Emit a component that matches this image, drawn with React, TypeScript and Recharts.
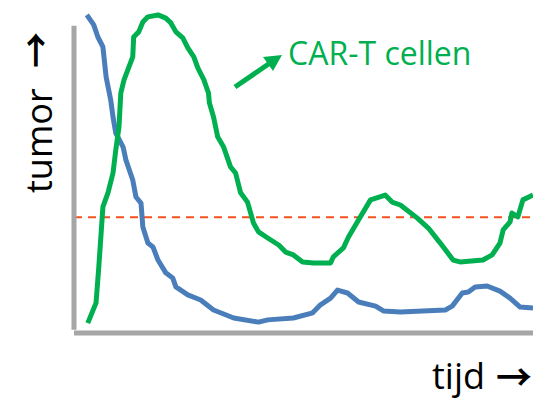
import React from 'react';
import { LineChart, Line, XAxis, YAxis, ReferenceLine } from 'recharts';

// time runs 0..100 along the x axis, level 0..100 up the y axis
const tumorTime = [
  2.8, 4.3, 5.2, 6.3, 7.0, 8.0, 8.5, 9.1, 10.7, 11.3, 12.8, 13.5, 14.6, 15.0, 16.1,
  17.2, 18.3, 20.0, 21.5, 22.2, 24.8, 27.6, 30.4, 34.8, 40.2, 42.2, 47.8, 52.0, 53.7,
  55.9, 57.4, 59.6, 62.0, 65.7, 67.4, 71.1, 80.9, 82.4, 84.6, 85.9, 87.4, 90.0, 92.8,
  95.0, 97.2, 100,
];
const tumorLevel = [
  99.4, 96.3, 92.5, 89.4, 80.0, 72.8, 67.5, 62.5, 58.1, 54.1, 47.8, 42.5, 40.6, 33.1, 28.1,
  26.9, 22.8, 18.8, 17.2, 14.4, 11.9, 10.3, 7.2, 4.7, 3.4, 4.1, 4.7, 6.3, 8.8,
  10.9, 13.4, 12.5, 9.7, 8.4, 6.9, 6.6, 7.2, 8.4, 12.5, 12.8, 14.4, 14.7, 13.1,
  10.9, 8.1, 7.8,
];

const carTTime = [
  3.0, 4.8, 5.4, 6.3, 7.4, 8.5, 9.1, 9.8, 10.2, 10.9, 12.8, 13.0, 14.1, 15.0, 16.1,
  18.3, 20.0, 21.1, 22.2, 23.7, 24.8, 26.1, 27.0, 28.3, 29.3, 29.5, 30.4, 31.3, 32.6,
  34.1, 35.2, 36.3, 37.8, 39.1, 40.2, 42.2, 44.6, 46.1, 47.8, 49.8, 52.2, 55.9, 56.5,
  58.7, 59.8, 62.4, 64.6, 67.8, 69.3, 71.1, 74.8, 77.2, 79.8, 82.6, 84.1, 89.1, 91.1,
  92.8, 93.5, 95.0, 95.4, 96.7, 97.8, 100,
];
const carTLevel = [
  3.1, 9.4, 20.6, 39.4, 43.8, 50.0, 57.2, 64.4, 75.0, 79.1, 86.3, 92.5, 94.1, 97.2, 98.8,
  99.4, 98.4, 96.9, 94.1, 92.2, 89.1, 86.3, 82.8, 79.1, 75.0, 71.9, 67.5, 61.3, 58.1,
  51.9, 50.0, 43.8, 40.9, 34.4, 31.6, 29.7, 27.5, 25.3, 24.4, 22.2, 21.9, 21.9, 23.8,
  26.6, 30.0, 36.3, 41.6, 43.1, 40.9, 40.0, 35.9, 32.8, 28.1, 22.8, 22.2, 22.8, 24.4,
  28.1, 32.2, 34.7, 37.5, 36.3, 41.6, 43.1,
];

const threshold = 36.2;

const tumorData = tumorTime.map((t, i) => ({ t, v: tumorLevel[i] }));
const carTData = carTTime.map((t, i) => ({ t, v: carTLevel[i] }));

const AXIS_GREY = '#a6a6a6';
const GREEN = '#00b050';
const BLUE = '#4a7ebb';
const FONT = '"Open Sans", sans-serif';
const ARROW_FONT = '"Noto Sans CJK JP", "DejaVu Sans", sans-serif';

export default function App() {
  return (
    <div style={{ position: 'absolute', left: 0, top: 0, width: 533, height: 400, background: '#fff' }}>
      <LineChart width={533} height={400} margin={{ top: 13, right: 0, bottom: 67, left: 74 }}>
        <XAxis type="number" dataKey="t" domain={[0, 100]} hide allowDuplicatedCategory={false} />
        <YAxis type="number" domain={[0, 100]} hide />
        <ReferenceLine y={threshold} stroke="#f4511e" strokeWidth={2} strokeDasharray="8 6" ifOverflow="visible" />
        <ReferenceLine segment={[{ x: 0, y: 1 }, { x: 0, y: 96 }]} stroke={AXIS_GREY} strokeWidth={5} ifOverflow="visible" />
        <ReferenceLine segment={[{ x: 0, y: 0 }, { x: 100, y: 0 }]} stroke={AXIS_GREY} strokeWidth={5} ifOverflow="visible" />
        <Line data={tumorData} dataKey="v" type="linear" stroke={BLUE} strokeWidth={5}
          dot={false} activeDot={false} strokeLinejoin="round" isAnimationActive={false} />
        <Line data={carTData} dataKey="v" type="linear" stroke={GREEN} strokeWidth={5}
          dot={false} activeDot={false} strokeLinejoin="round" isAnimationActive={false} />
      </LineChart>
      <svg width={533} height={400} style={{ position: 'absolute', left: 0, top: 0, pointerEvents: 'none' }}>
        <text transform="translate(50,68) rotate(-90)" fontFamily={ARROW_FONT} fontWeight="bold" fontSize={36} fill="#000">→</text>
        <text transform="translate(52,193) rotate(-90)" fontFamily={FONT} fontSize={36} fill="#000">tumor</text>
        <text x={432} y={389} fontFamily={FONT} fontSize={36} fill="#000">tijd</text>
        <text x={496} y={391} fontFamily={ARROW_FONT} fontWeight="bold" fontSize={36} fill="#000">→</text>
        <text x={288} y={65} fontFamily={FONT} fontSize={32} fill={GREEN}>CAR-T cellen</text>
        <line x1={235} y1={87} x2={270} y2={63} stroke={GREEN} strokeWidth={5} />
        <polygon points="282,55 263,57 273,71" fill={GREEN} />
      </svg>
    </div>
  );
}
